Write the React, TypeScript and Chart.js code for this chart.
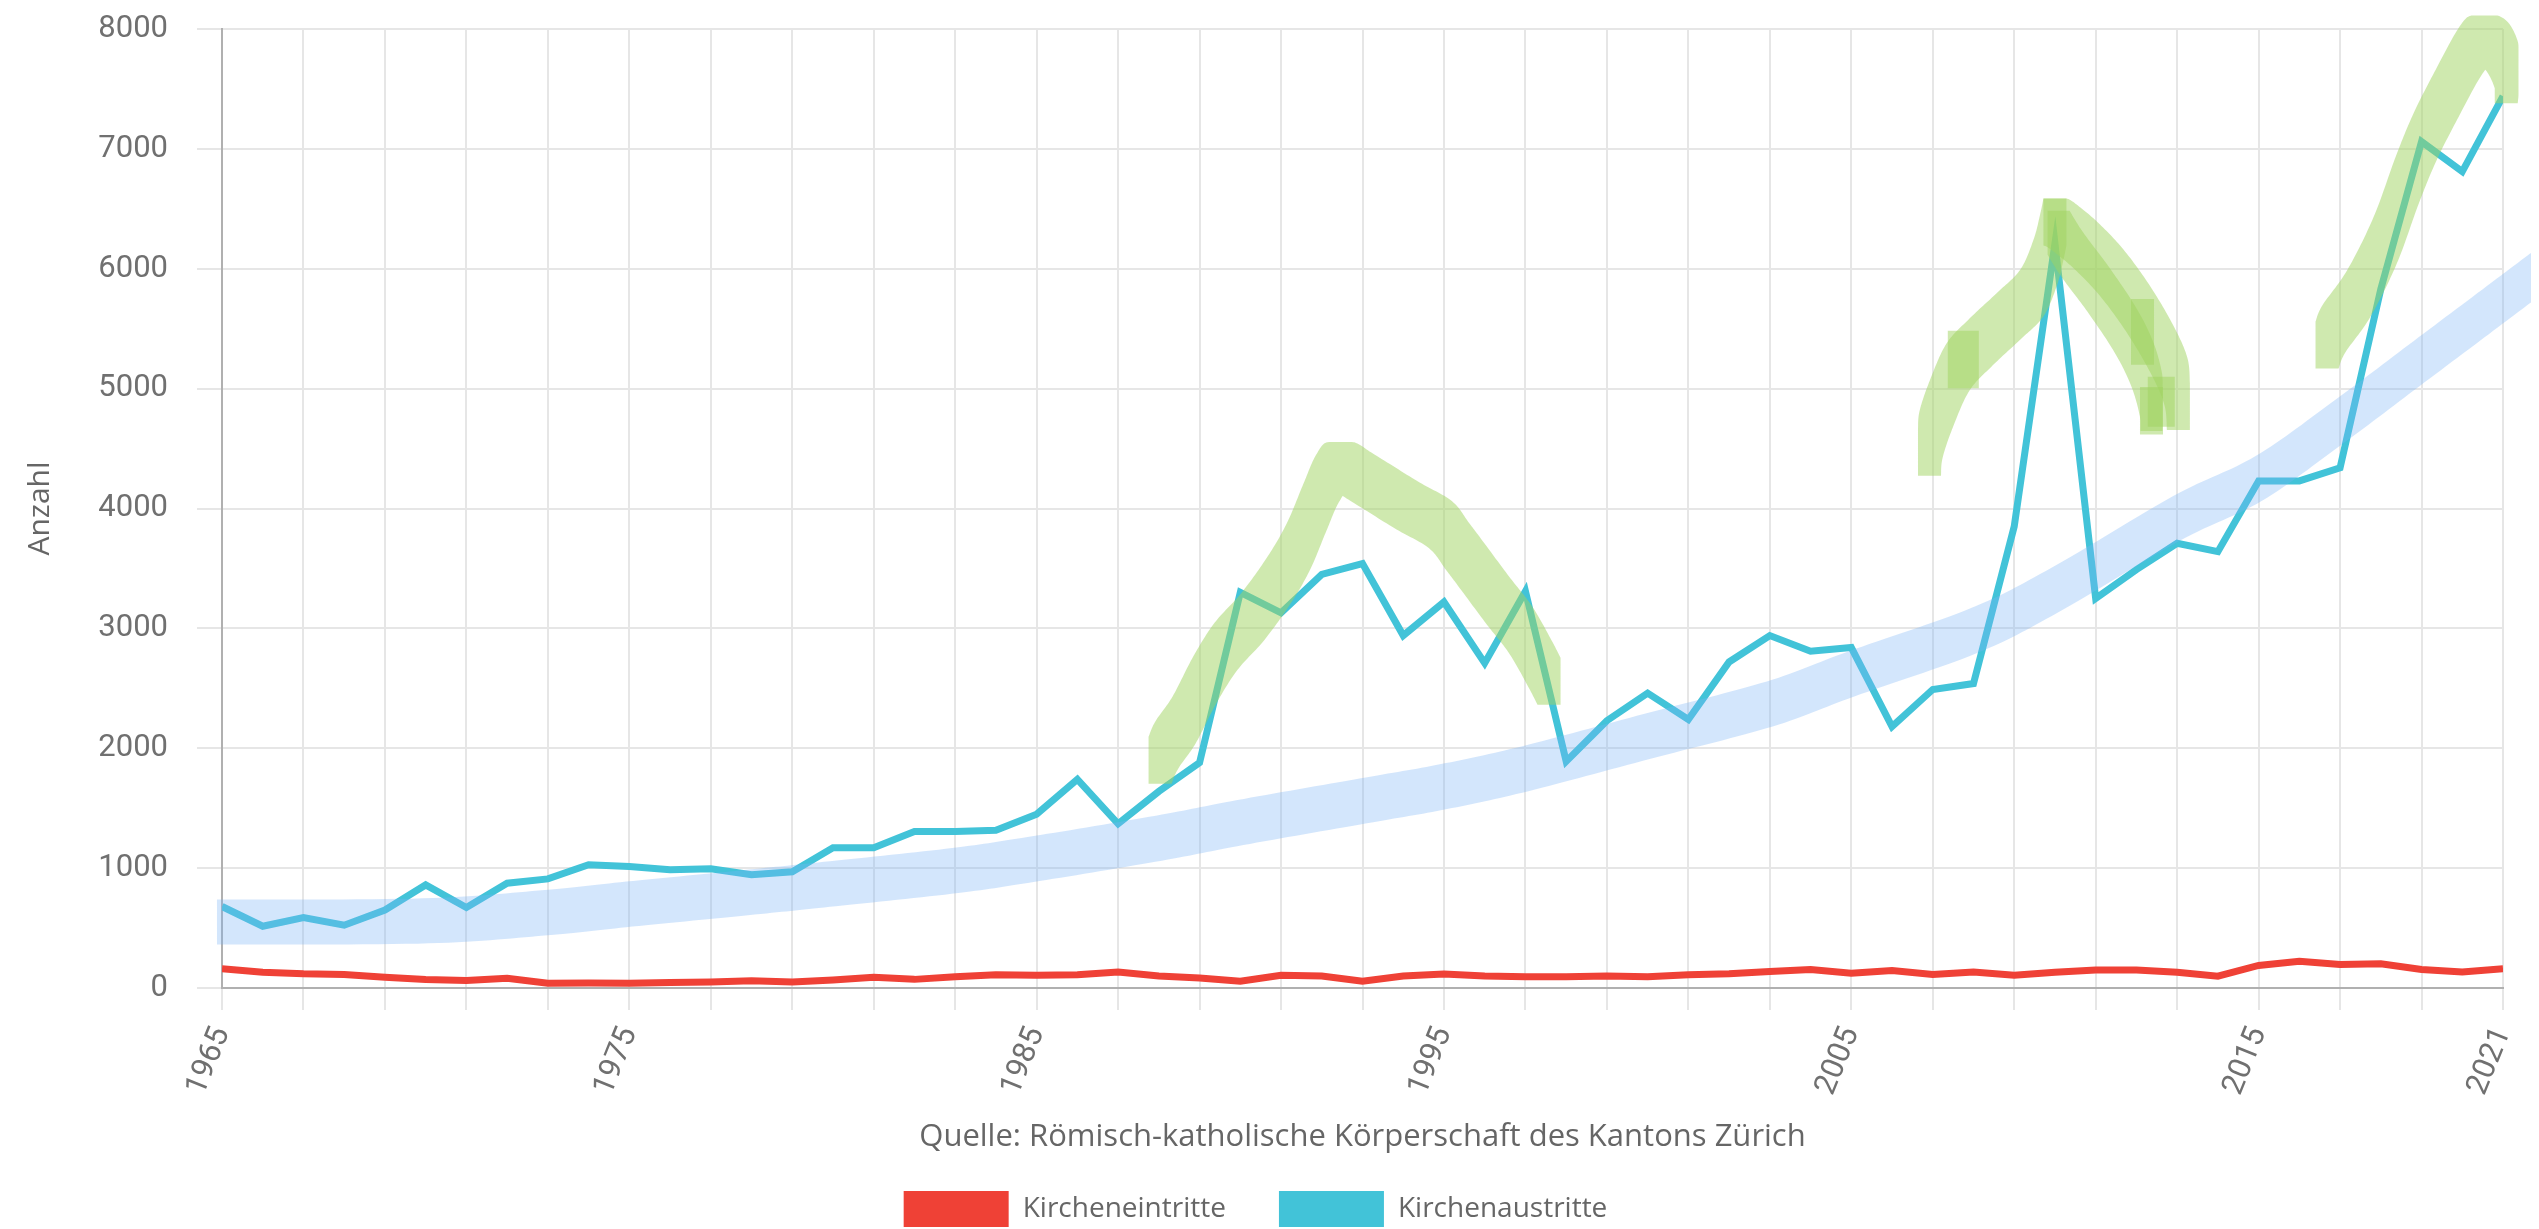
import React, { useEffect, useRef } from 'react';
import { Chart, registerables } from 'chart.js';

Chart.register(...registerables);

// ---------- data ----------
const years = [
  1965, 1966, 1967, 1968, 1969, 1970, 1971, 1972, 1973, 1974,
  1975, 1976, 1977, 1978, 1979, 1980, 1981, 1982, 1983, 1984,
  1985, 1986, 1987, 1988, 1989, 1990, 1991, 1992, 1993, 1994,
  1995, 1996, 1997, 1998, 1999, 2000, 2001, 2002, 2003, 2004,
  2005, 2006, 2007, 2008, 2009, 2010, 2011, 2012, 2013, 2014,
  2015, 2016, 2017, 2018, 2019, 2020, 2021,
];

const kircheneintritte = [
  160, 132, 118, 112, 90, 70, 62, 81, 39, 42,
  39, 45, 50, 61, 50, 67, 89, 72, 94, 111,
  106, 111, 133, 100, 83, 56, 106, 100, 56, 100,
  117, 100, 94, 94, 100, 94, 111, 118, 138, 154,
  123, 146, 112, 134, 106, 132, 151, 151, 132, 98,
  188, 224, 196, 202, 154, 134, 160,
];

const kirchenaustritte = [
  680, 515, 588, 524, 650, 860, 672, 874, 910, 1028,
  1014, 986, 995, 945, 970, 1170, 1170, 1305, 1305, 1315,
  1450, 1740, 1370, 1640, 1880, 3300, 3130, 3450, 3540, 2940,
  3220, 2710, 3310, 1890, 2230, 2460, 2240, 2720, 2940, 2810,
  2840, 2180, 2490, 2540, 3850, 6210, 3250, 3490, 3710, 3640,
  4230, 4230, 4340, 5830, 7060, 6810, 7440,
];

const gridYears = [
  1965, 1967, 1969, 1971, 1973, 1975, 1977, 1979, 1981, 1983,
  1985, 1987, 1989, 1991, 1993, 1995, 1997, 1999, 2001, 2003,
  2005, 2007, 2009, 2011, 2013, 2015, 2017, 2019, 2021,
];
const xTickLabels = ['1965', '1975', '1985', '1995', '2005', '2015', '2021'];

// hand-drawn highlighter marks
const trendBandYears = [1964.95, 1970, 1973, 1975, 1978, 1980, 1983, 1985, 1988, 1990, 1993, 1995, 1997, 2000, 2003, 2005, 2008, 2010, 2013, 2015, 2017, 2019, 2021, 2021.9];
const trendBandValues = [550, 560, 630, 700, 800, 870, 980, 1080, 1250, 1380, 1560, 1680, 1830, 2100, 2370, 2620, 2980, 3320, 3920, 4250, 4730, 5240, 5750, 5980];

const mark1990Years = [1988.03, 1988.2, 1988.62, 1989.13, 1989.65, 1990.31, 1990.96, 1991.43, 1991.81, 1992.14, 1992.46, 1993.03, 1994.06, 1994.91, 1995.33, 1995.7, 1996.31, 1996.88, 1997.35, 1997.58];
const mark1990Values = [1900, 2030, 2236, 2571, 2850, 3100, 3407, 3685, 3992, 4250, 4358, 4250, 4033, 3866, 3685, 3518, 3239, 2989, 2710, 2558];

const mark2010UpYears = [2006.92, 2006.96, 2007.21, 2007.62, 2008.19, 2008.85, 2009.43, 2009.76, 2009.92, 2010.0];
const mark2010UpValues = [4470, 4620, 4872, 5180, 5390, 5600, 5796, 6050, 6260, 6390];
const mark2010DownYears = [2010.0, 2010.17, 2010.74, 2011.4, 2012.06, 2012.64, 2012.97, 2013.03];
const mark2010DownValues = [6390, 6360, 6200, 5964, 5656, 5320, 5060, 4850];
const mark2010InnerYears = [2010.09, 2010.42, 2011.07, 2011.73, 2012.14, 2012.35, 2012.37];
const mark2010InnerValues = [6300, 6120, 5824, 5488, 5208, 4960, 4830];
const mark2010PatchAYears = [2007.75, 2007.75];
const mark2010PatchAValues = [5474, 5012];
const mark2010PatchBYears = [2012.15, 2012.15];
const mark2010PatchBValues = [5740, 5208];
const mark2010PatchCYears = [2012.37, 2012.37];
const mark2010PatchCValues = [5006, 4625];
const mark2010PatchDYears = [2012.61, 2012.61];
const mark2010PatchDValues = [5090, 4690];

const mark2019Years = [2016.68, 2016.85, 2017.46, 2018.11, 2018.65, 2019.09, 2019.63, 2020.17, 2020.49, 2020.84, 2021.08, 2021.08];
const mark2019Values = [5363, 5500, 5794, 6239, 6741, 7103, 7465, 7800, 7915, 7860, 7700, 7577];

// ---------- styles ----------
const RED = '#ef4136';
const CYAN = '#42c3d8';
const GREEN_MARK = 'rgba(160, 212, 96, 0.5)';
const BLUE_MARK = 'rgba(120, 180, 245, 0.33)';

const toPoints = (xs: number[], ys: number[]) => xs.map((x, i) => ({ x, y: ys[i] }));

type P = { x: number; y: number };

function sampleCurve(pts: P[], t: number, steps: number): P[] {
  const out: P[] = [pts[0]];
  for (let i = 0; i < pts.length - 1; i++) {
    const p0 = pts[i - 1] || pts[i];
    const p1 = pts[i];
    const p2 = pts[i + 1];
    const p3 = pts[i + 2] || p2;
    const c1 = { x: p1.x + (p2.x - p0.x) * t, y: p1.y + (p2.y - p0.y) * t };
    const c2 = { x: p2.x - (p3.x - p1.x) * t, y: p2.y - (p3.y - p1.y) * t };
    for (let s = 1; s <= steps; s++) {
      const u = s / steps;
      const a = (1 - u) * (1 - u) * (1 - u);
      const b = 3 * (1 - u) * (1 - u) * u;
      const c = 3 * (1 - u) * u * u;
      const d = u * u * u;
      out.push({
        x: a * p1.x + b * c1.x + c * c2.x + d * p2.x,
        y: a * p1.y + b * c1.y + c * c2.y + d * p2.y,
      });
    }
  }
  return out;
}

function convexHull(points: P[]): P[] {
  const pts = points.slice().sort((a, b) => (a.x === b.x ? a.y - b.y : a.x - b.x));
  const cross = (o: P, a: P, b: P) => (a.x - o.x) * (b.y - o.y) - (a.y - o.y) * (b.x - o.x);
  const lower: P[] = [];
  for (const p of pts) {
    while (lower.length >= 2 && cross(lower[lower.length - 2], lower[lower.length - 1], p) <= 0) lower.pop();
    lower.push(p);
  }
  const upper: P[] = [];
  for (let i = pts.length - 1; i >= 0; i--) {
    const p = pts[i];
    while (upper.length >= 2 && cross(upper[upper.length - 2], upper[upper.length - 1], p) <= 0) upper.pop();
    upper.push(p);
  }
  upper.pop();
  lower.pop();
  return lower.concat(upper);
}

// draws a flat rectangular marker nib swept along the dataset's points
const highlighterPlugin = {
  id: 'highlighter',
  afterDatasetsDraw(chart: any) {
    const ctx = chart.ctx;
    chart.data.datasets.forEach((ds: any, di: number) => {
      const hl = ds.highlighter;
      if (!hl) return;
      const meta = chart.getDatasetMeta(di);
      const pts: P[] = meta.data.map((el: any) => ({ x: el.x, y: el.y }));
      if (pts.length < 2) return;
      const path = sampleCurve(pts, hl.smooth, 16);
      const hw = hl.nibW / 2;
      const hh = hl.nibH / 2;
      ctx.save();
      ctx.beginPath();
      for (let i = 0; i < path.length - 1; i++) {
        const a = path[i];
        const b = path[i + 1];
        const corners: P[] = [
          { x: a.x - hw, y: a.y - hh }, { x: a.x + hw, y: a.y - hh },
          { x: a.x + hw, y: a.y + hh }, { x: a.x - hw, y: a.y + hh },
          { x: b.x - hw, y: b.y - hh }, { x: b.x + hw, y: b.y - hh },
          { x: b.x + hw, y: b.y + hh }, { x: b.x - hw, y: b.y + hh },
        ];
        const h = convexHull(corners);
        ctx.moveTo(h[0].x, h[0].y);
        for (let j = 1; j < h.length; j++) ctx.lineTo(h[j].x, h[j].y);
        ctx.closePath();
      }
      ctx.fillStyle = hl.color;
      ctx.fill('nonzero');
      ctx.restore();
    });
  },
};

const markDataset = (xs: number[], ys: number[], color: string, nibW: number, nibH: number) => ({
  label: '',
  data: toPoints(xs, ys),
  showLine: false,
  pointRadius: 0,
  pointHoverRadius: 0,
  borderWidth: 0,
  borderColor: 'transparent',
  backgroundColor: 'transparent',
  highlighter: { color, nibW, nibH, smooth: 1 / 6 },
});

const CANVAS_W = 2523;
const CANVAS_H = 1229;

export default function App() {
  const canvasRef = useRef<HTMLCanvasElement | null>(null);

  useEffect(() => {
    if (!canvasRef.current) return;
    const chart = new Chart(canvasRef.current, {
      type: 'line',
      data: {
        datasets: [
          {
            label: 'Kircheneintritte',
            data: toPoints(years, kircheneintritte),
            borderColor: RED,
            backgroundColor: RED,
            borderWidth: 7,
            pointRadius: 0,
            tension: 0,
          },
          {
            label: 'Kirchenaustritte',
            data: toPoints(years, kirchenaustritte),
            borderColor: CYAN,
            backgroundColor: CYAN,
            borderWidth: 7,
            pointRadius: 0,
            tension: 0,
          },
          markDataset(trendBandYears, trendBandValues, BLUE_MARK, 6, 45),
          markDataset(mark1990Years, mark1990Values, GREEN_MARK, 23, 47),
          markDataset(mark2010UpYears, mark2010UpValues, GREEN_MARK, 23, 47),
          markDataset(mark2010DownYears, mark2010DownValues, GREEN_MARK, 23, 47),
          markDataset(mark2010InnerYears, mark2010InnerValues, GREEN_MARK, 22, 44),
          markDataset(mark2010PatchAYears, mark2010PatchAValues, GREEN_MARK, 31, 2),
          markDataset(mark2010PatchBYears, mark2010PatchBValues, GREEN_MARK, 23, 2),
          markDataset(mark2010PatchCYears, mark2010PatchCValues, GREEN_MARK, 23, 2),
          markDataset(mark2010PatchDYears, mark2010PatchDValues, GREEN_MARK, 27, 2),
          markDataset(mark2019Years, mark2019Values, GREEN_MARK, 23, 47),
        ] as any,
      },
      options: {
        responsive: false,
        animation: false,
        devicePixelRatio: 1,
        events: [],
        layout: { padding: { top: 21, right: 28, left: 0, bottom: 0 } },
        plugins: {
          tooltip: { enabled: false },
          legend: {
            display: true,
            position: 'bottom',
            labels: {
              boxWidth: 105,
              boxHeight: 36,
              padding: 53,
              color: '#666',
              font: { family: 'Open Sans', size: 28 },
              filter: (item: any) => item.datasetIndex < 2,
              generateLabels: (c: any) =>
                Chart.defaults.plugins.legend.labels
                  .generateLabels(c)
                  .map((l: any) => ({ ...l, lineWidth: 0 })),
            },
          },
        },
        scales: {
          x: {
            type: 'linear',
            min: 1965,
            max: 2021,
            afterBuildTicks: (axis: any) => {
              axis.ticks = gridYears.map((v) => ({ value: v }));
            },
            afterFit: (scale: any) => {
              scale.height = 150;
              scale.paddingLeft = 0;
              scale.paddingRight = 0;
            },
            grid: {
              color: '#e6e6e6',
              lineWidth: 2,
              drawTicks: true,
              tickLength: 22,
            },
            border: { display: true, color: '#b0b0b0', width: 2 },
            ticks: {
              autoSkip: false,
              maxRotation: 68,
              minRotation: 68,
              padding: 12,
              color: '#707070',
              font: { family: 'Roboto', size: 31 },
              callback: (v: any) => (xTickLabels.includes(String(v)) ? String(v) : ''),
            },
            title: {
              display: true,
              text: 'Quelle: Römisch-katholische Körperschaft des Kantons Zürich',
              color: '#666',
              font: { family: 'Open Sans', size: 31 },
              padding: { top: 0, bottom: -17.6 },
            },
          },
          y: {
            min: 0,
            max: 8000,
            afterFit: (scale: any) => {
              scale.width = 214;
              scale.paddingTop = 0;
              scale.paddingBottom = 0;
            },
            grid: {
              color: '#e6e6e6',
              lineWidth: 2,
              drawTicks: true,
              tickLength: 25,
            },
            border: { display: true, color: '#b0b0b0', width: 2 },
            ticks: {
              stepSize: 1000,
              padding: 29,
              color: '#707070',
              font: { family: 'Roboto', size: 31 },
              callback: (v: any) => String(v),
            },
            title: {
              display: true,
              text: 'Anzahl',
              color: '#666',
              font: { family: 'Open Sans', size: 30 },
              padding: { top: 14, bottom: 0 },
            },
          },
        },
      } as any,
      plugins: [highlighterPlugin],
    });
    return () => chart.destroy();
  }, []);

  return (
    <div style={{ width: CANVAS_W, height: 1221, overflow: 'hidden' }}>
      <canvas
        ref={canvasRef}
        width={CANVAS_W}
        height={CANVAS_H}
        style={{ display: 'block', width: CANVAS_W, height: CANVAS_H }}
      />
    </div>
  );
}
